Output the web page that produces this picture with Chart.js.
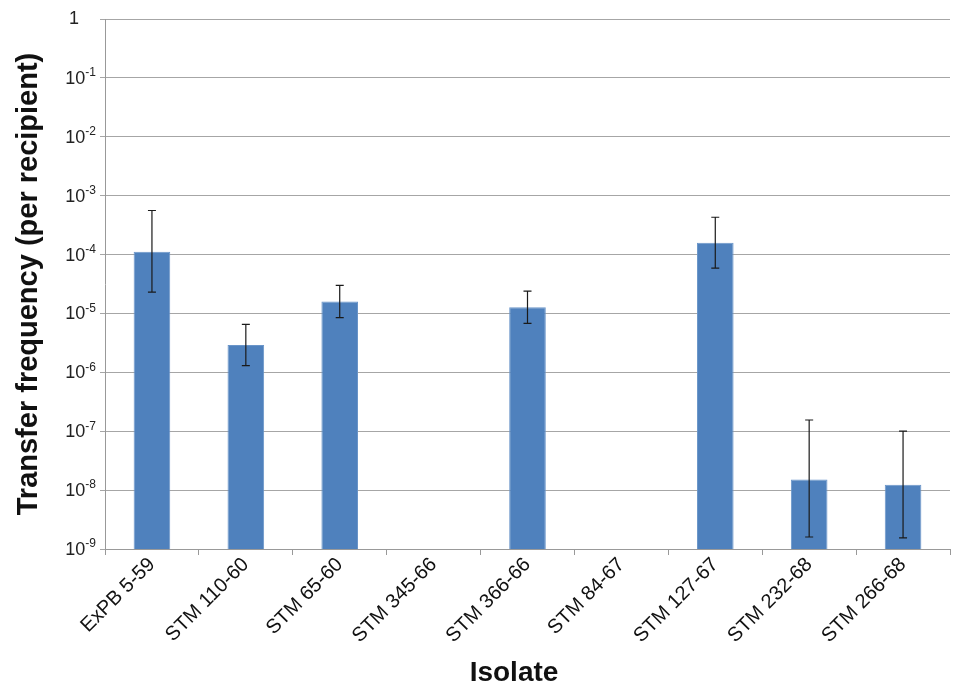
<!DOCTYPE html>
<html>
<head>
<meta charset="utf-8">
<script src="https://cdn.jsdelivr.net/npm/chart.js@4.4.1/dist/chart.umd.min.js"></script>
<style>
  body { margin: 0; background: #fff; }
  #wrap { width: 958px; height: 693px; }
</style>
</head>
<body>
<div id="wrap"><canvas id="freqChart"></canvas></div>
<script>
// isolates and transfer frequency (per recipient)
const isolates = ['ExPB 5-59', 'STM 110-60', 'STM 65-60', 'STM 345-66', 'STM 366-66',
                  'STM 84-67', 'STM 127-67', 'STM 232-68', 'STM 266-68'];
const freq    = [1.12e-4, 2.9e-6, 1.6e-5, null, 1.28e-5, null, 1.58e-4, 1.52e-8, 1.23e-8];
const errHigh = [5.6e-4, 6.5e-6, 3.0e-5, null, 2.4e-5, null, 4.3e-4, 1.55e-7, 1.0e-7];
const errLow  = [2.3e-5, 1.3e-6, 8.5e-6, null, 6.8e-6, null, 5.9e-5, 1.6e-9, 1.55e-9];
const yTicks  = [1e-9, 1e-8, 1e-7, 1e-6, 1e-5, 1e-4, 1e-3, 1e-2, 1e-1, 1];

const fontFam = '"Liberation Sans", Arial, sans-serif';

// error bars, drawn through the chart's own scales
const errorBars = {
  id: 'errorBars',
  afterDatasetsDraw(chart) {
    const ctx = chart.ctx;
    const y = chart.scales.y;
    const meta = chart.getDatasetMeta(0);
    ctx.save();
    ctx.strokeStyle = '#1a1a1a';
    ctx.lineWidth = 1.2;
    meta.data.forEach((bar, i) => {
      if (errHigh[i] == null) return;
      const x = bar.x;
      const yh = y.getPixelForValue(errHigh[i]);
      const yl = y.getPixelForValue(errLow[i]);
      ctx.beginPath();
      ctx.moveTo(x, yh); ctx.lineTo(x, yl);
      ctx.moveTo(x - 4, yh); ctx.lineTo(x + 4, yh);
      ctx.moveTo(x - 4, yl); ctx.lineTo(x + 4, yl);
      ctx.stroke();
    });
    ctx.restore();
  }
};

// y tick labels as 10 with a raised exponent, plus the x axis title
const axisText = {
  id: 'axisText',
  afterDraw(chart) {
    const ctx = chart.ctx;
    const y = chart.scales.y;
    const right = chart.chartArea.left - 9;
    ctx.save();
    ctx.fillStyle = '#222';
    ctx.textBaseline = 'middle';
    yTicks.forEach(v => {
      const py = y.getPixelForValue(v);
      const k = Math.round(Math.log10(v));
      if (k === 0) {
        ctx.font = '18px ' + fontFam;
        ctx.textAlign = 'right';
        ctx.fillText('1', right - 17, py);
        return;
      }
      const exp = String(k);
      ctx.font = '12px ' + fontFam;
      const ew = ctx.measureText(exp).width;
      ctx.textAlign = 'left';
      ctx.fillText(exp, right - ew, py - 5);
      ctx.font = '18px ' + fontFam;
      ctx.textAlign = 'right';
      ctx.fillText('10', right - ew, py + 1);
    });
    ctx.fillStyle = '#111';
    ctx.font = 'bold 28px ' + fontFam;
    ctx.textAlign = 'center';
    ctx.fillText('Isolate', 514, 673);
    ctx.restore();
  }
};

new Chart(document.getElementById('freqChart'), {
  type: 'bar',
  data: {
    labels: isolates,
    datasets: [{
      label: 'Transfer frequency',
      data: freq,
      backgroundColor: '#4f81bd',
      borderColor: '#6a95c9',
      borderWidth: 1,
      barPercentage: 0.39,
      categoryPercentage: 1.0
    }]
  },
  options: {
    responsive: true,
    maintainAspectRatio: false,
    animation: false,
    layout: { padding: { top: 19, right: 8, bottom: 0, left: 0 } },
    plugins: {
      legend: { display: false },
      tooltip: { enabled: false }
    },
    scales: {
      x: {
        afterFit: s => { s.height = 144; },
        grid: {
          drawOnChartArea: false,
          drawTicks: true,
          tickLength: 6,
          color: '#999',
          offset: true
        },
        border: { color: '#999', width: 1 },
        ticks: {
          minRotation: 45,
          maxRotation: 45,
          autoSkip: false,
          color: '#111',
          font: { family: fontFam, size: 20 },
          padding: -2
        },
        title: { display: false }
      },
      y: {
        type: 'logarithmic',
        min: 1e-9,
        max: 1,
        afterBuildTicks: s => { s.ticks = yTicks.map(v => ({ value: v })); },
        afterFit: s => { s.width = 105; },
        grid: {
          color: '#a6a6a6',
          lineWidth: 1,
          drawTicks: true,
          tickLength: 5
        },
        border: { color: '#999', width: 1 },
        ticks: { display: false },
        title: {
          display: true,
          text: 'Transfer frequency (per recipient)',
          color: '#111',
          font: { family: fontFam, size: 29, weight: 'bold' },
          padding: { top: 12, bottom: 0 }
        }
      }
    }
  },
  plugins: [errorBars, axisText]
});
</script>
</body>
</html>
